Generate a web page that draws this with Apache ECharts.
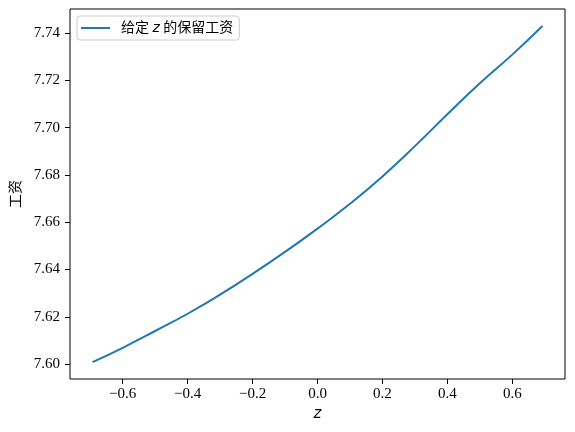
<!DOCTYPE html>
<html>
<head>
<meta charset="utf-8">
<script src="https://cdn.jsdelivr.net/npm/echarts@6/dist/echarts.min.js"></script>
<style>
	html, body { margin: 0; padding: 0; background: #fff; }
	#reservation_chart { width: 575px; height: 432px; }
</style>
</head>
<body>
<div id="reservation_chart"></div>
<script>
// 数据：z 与保留工资
var zValues = [-0.693, -0.6, -0.5, -0.4, -0.3, -0.2, -0.1, 0.0, 0.1, 0.2, 0.3, 0.4, 0.5, 0.6, 0.693];
var wageValues = [7.6008, 7.6069, 7.6140, 7.6213, 7.6294, 7.6382, 7.6475, 7.6573, 7.6678, 7.6794, 7.6922, 7.7057, 7.7188, 7.7309, 7.7430];
var xTicks = [-0.6, -0.4, -0.2, 0.0, 0.2, 0.4, 0.6];
var yTicks = [7.60, 7.62, 7.64, 7.66, 7.68, 7.70, 7.72, 7.74];
var seriesName = '给定 z 的保留工资';

function loadChart(){
	var chart = echarts.init(document.getElementById('reservation_chart'));
	var serif = "'Liberation Serif', 'Noto Sans CJK SC', serif";
	var points = [];
	for (var i = 0; i < zValues.length; i++) {
		points.push([zValues[i], wageValues[i]]);
	}
	var minus = function(s){ return s.replace('-', '\u2212'); };

	var option = {
		animation: false,
		grid: {
			left: 70,
			right: 10,
			top: 9,
			bottom: 53,
			show: true,
			borderColor: '#000',
			borderWidth: 1
		},
		legend: {
			data: [{ name: seriesName, icon: 'rect' }],
			left: 77,
			top: 16,
			padding: [5, 6, 5, 4],
			borderColor: '#cccccc',
			borderWidth: 1,
			borderRadius: 3,
			itemWidth: 29,
			itemHeight: 2,
			formatter: function(){ return '给定 {i|z} 的保留工资'; },
			textStyle: {
				fontSize: 14,
				color: '#000',
				fontFamily: serif,
				padding: [0, 0, 0, 6],
				rich: {
					i: { fontFamily: 'DejaVu Sans', fontStyle: 'italic', fontSize: 14, color: '#000' }
				}
			}
		},
		xAxis: {
			type: 'value',
			min: -0.7623,
			max: 0.7623,
			name: 'z',
			nameLocation: 'middle',
			nameGap: 24,
			nameTextStyle: { fontFamily: 'DejaVu Sans', fontStyle: 'italic', fontSize: 15, color: '#000' },
			axisLine: { show: false, onZero: false },
			axisTick: { show: true, customValues: xTicks, length: 5, lineStyle: { color: '#000' } },
			axisLabel: {
				customValues: xTicks,
				margin: 8,
				fontSize: 15,
				color: '#000',
				fontFamily: serif,
				formatter: function(v){ return minus(v.toFixed(1)); }
			},
			splitLine: { show: false }
		},
		yAxis: {
			type: 'value',
			min: 7.5937,
			max: 7.7502,
			name: '工资',
			nameLocation: 'middle',
			nameGap: 41,
			nameTextStyle: { fontFamily: serif, fontSize: 14, color: '#000' },
			axisLine: { show: false, onZero: false },
			axisTick: { show: true, customValues: yTicks, length: 5, lineStyle: { color: '#000' } },
			axisLabel: {
				customValues: yTicks,
				margin: 10,
				fontSize: 15,
				color: '#000',
				fontFamily: serif,
				formatter: function(v){ return v.toFixed(2); }
			},
			splitLine: { show: false }
		},
		series: [
			{
				name: seriesName,
				type: 'line',
				data: points,
				symbol: 'none',
				smooth: 0.5,
				lineStyle: { color: '#1f77b4', width: 2 },
				itemStyle: { color: '#1f77b4' }
			}
		]
	};
	chart.setOption(option);
}
loadChart();
</script>
</body>
</html>
